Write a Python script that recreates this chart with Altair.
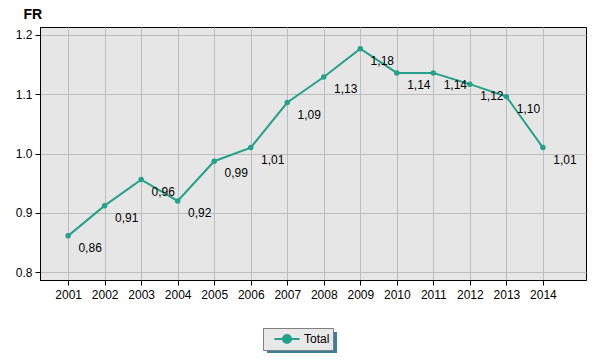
import altair as alt
import pandas as pd

years = [2001, 2002, 2003, 2004, 2005, 2006, 2007, 2008, 2009, 2010, 2011, 2012, 2013, 2014]
values = [0.861, 0.912, 0.956, 0.920, 0.987, 1.010, 1.086, 1.129, 1.177, 1.136, 1.136, 1.117, 1.096, 1.010]
labels = ["0,86", "0,91", "0,96", "0,92", "0,99", "1,01", "1,09", "1,13", "1,18", "1,14", "1,14", "1,12", "1,10", "1,01"]
series = "Total"
y_ticks = [0.8, 0.9, 1.0, 1.1, 1.2]

df = pd.DataFrame({"year": years, "value": values, "label": labels, "series": [series] * len(years)})

LINE = "#26A08A"
FONT = "Liberation Sans"

x = alt.X("year:Q", scale=alt.Scale(domain=[2000.23, 2015.18], nice=False, zero=False),
          axis=alt.Axis(values=years, format="d", title=None, grid=True, gridColor="#BDBDBD",
                        tickColor="black", tickSize=5, domainColor="black", labelPadding=4,
                        labelFont=FONT, labelFontSize=12, labelColor="black"))
y = alt.Y("value:Q", scale=alt.Scale(domain=[0.7865, 1.2135], nice=False, zero=False),
          axis=alt.Axis(values=y_ticks, format=".1f", title="FR", titleAngle=0, titleAlign="left",
                        titleBaseline="alphabetic", titleX=-17, titleY=-9, titleFont=FONT,
                        titleFontSize=14, titleFontWeight="bold", titleColor="black",
                        grid=True, gridColor="#BDBDBD", tickColor="black", tickSize=5,
                        domainColor="black", labelPadding=3, labelFont=FONT, labelFontSize=12,
                        labelColor="black"))

color = alt.Color("series:N", scale=alt.Scale(domain=[series], range=[LINE]),
                  legend=alt.Legend(title=None, orient="none", legendX=223, legendY=301,
                                    fillColor="#E8E8E8", strokeColor="#7F7F7F", padding=3,
                                    symbolType="M-1.8,0L1.8,0M-0.57,0A0.57,0.57 0 1,1 0.57,0A0.57,0.57 0 1,1 -0.57,0",
                                    symbolSize=196, symbolStrokeWidth=2, symbolFillColor=LINE,
                                    symbolStrokeColor=LINE, symbolOffset=13,
                                    labelFont=FONT, labelFontSize=12, labelColor="black",
                                    labelOffset=9))

base = alt.Chart(df)

shadow = base.transform_filter("datum.year == 2001").mark_rect(color="#3A7E98").encode(
    x=alt.value(227), x2=alt.value(297), y=alt.value(305), y2=alt.value(326))

line = base.mark_line(strokeWidth=2, point=alt.OverlayMarkDef(filled=True, size=30, color=LINE)).encode(
    x=x, y=y, color=color)

text = base.mark_text(dx=22, dy=12, font=FONT, fontSize=12, color="black").encode(
    x="year:Q", y="value:Q", text="label:N")

chart = alt.layer(shadow, line, text).properties(
    width=546, height=253,
    padding={"left": 32, "top": 19, "right": 6, "bottom": 76},
    autosize=alt.AutoSizeParams(type="none"),
    background="white",
).configure_view(stroke="black", strokeWidth=1, fill="#E6E6E6")

chart.save("out.html", embed_options={"renderer": "svg", "actions": False})
